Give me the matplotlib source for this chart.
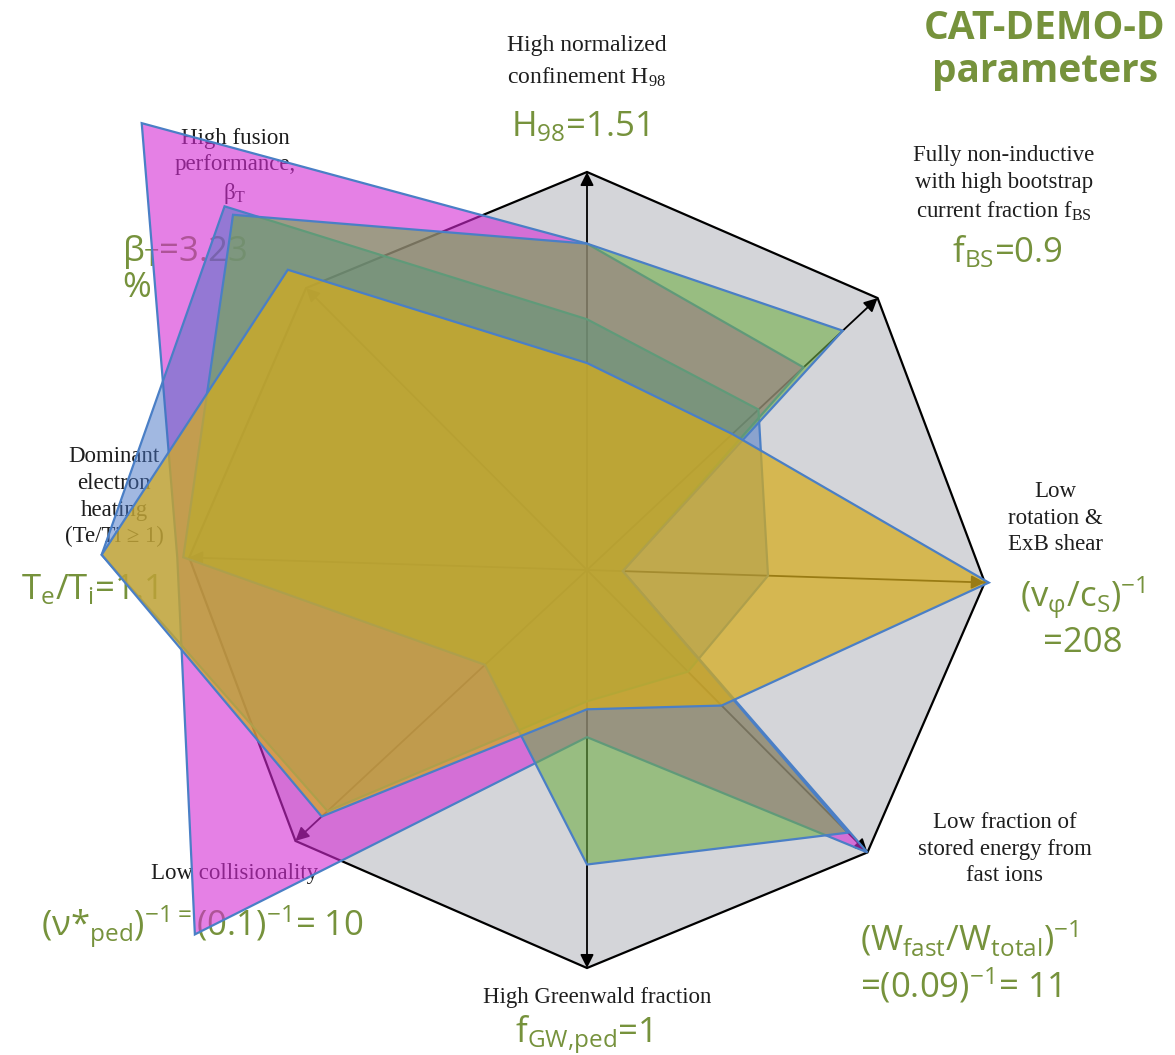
import numpy as np
import matplotlib.pyplot as plt
from matplotlib.colors import to_rgba
plt.switch_backend('Agg')

W_PX, H_PX = 1175, 1055

# axis order: N (H98), NE (fBS), E (rotation), SE (Wfast), S (fGW), SW (nu*), W (Te/Ti), NW (betaT)
axis_angles = [90, 43.1, -1.8, -45.2, -90, -137.1, 178.2, 134.9]
reference = [1, 1, 1, 1, 1, 1, 1, 1]
pink = [0.82, 0.745, 0.09, 1.0, 0.42, 1.345, 1.03, 1.585]
blue = [0.63, 0.59, 0.455, 0.36, 0.33, 0.89, 1.22, 1.29]
green = [0.82, 0.88, 0.09, 0.93, 0.74, 0.35, 1.015, 1.26]
gold = [0.52, 0.50, 1.01, 0.48, 0.35, 0.91, 1.22, 1.065]

series = [(pink, '#d52bd5', 0.6), (blue, '#4472c4', 0.5),
          (green, '#70ad47', 0.6), (gold, '#d6ac1c', 0.72)]

GREEN = '#76923c'
SERIF = 'Liberation Serif'
SANS = 'Open Sans'

fig = plt.figure(figsize=(W_PX / 100, H_PX / 100), dpi=100)
cx, cy, unit, half = 587, 570, 398, 660
ax = fig.add_axes([(cx - half) / W_PX, 1 - (cy + half) / H_PX,
                   2 * half / W_PX, 2 * half / H_PX], projection='polar')
ax.set_ylim(0, half / unit)
ax.set_axis_off()

theta = np.deg2rad(axis_angles)

# reference octagon with arrows
ax.fill(theta, reference, facecolor='#d4d5d9', edgecolor='black', lw=1.6, zorder=1)
for t in theta:
    ax.annotate('', xy=(t, 1), xytext=(t, 0), zorder=2,
                arrowprops=dict(arrowstyle='-|>', color='black', lw=1.3,
                                mutation_scale=20, shrinkA=0, shrinkB=0))

for i, (vals, col, a) in enumerate(series):
    ax.fill(theta, vals, facecolor=to_rgba(col, a), edgecolor='#4a7fc6',
            lw=1.6, zorder=3 + i)


def label(x, y, s, under=False, **kw):
    kw.setdefault('ha', 'center')
    kw.setdefault('va', 'center')
    ax.text(x / W_PX, 1 - y / H_PX, s, transform=fig.transFigure,
            zorder=2.5 if under else 10, **kw)


serif = dict(family=SERIF, fontsize=16.5, color='#1e1e1e', linespacing=1.35)
val = dict(family=SANS, fontsize=25, color=GREEN)

label(1045, 50, 'CAT-DEMO-D\nparameters', family=SANS, fontsize=28,
      fontweight='bold', color=GREEN, linespacing=1.15)

label(587, 62, 'High normalized\nconfinement $\\mathregular{H_{98}}$',
      **{**serif, 'fontsize': 17, 'linespacing': 1.5})
label(580, 127, '$\\mathregular{H_{98}}$=1.51', **val)

label(1004, 184, 'Fully non-inductive\nwith high bootstrap\ncurrent fraction $\\mathregular{f_{BS}}$',
      **serif)
label(1007, 252, '$\\mathregular{f_{BS}}$=0.9', **val)

label(1055, 518, 'Low\nrotation &\nExB shear', **serif)
label(1083, 617, '$\\mathregular{(v_{φ}/c_{S})^{-1}}$\n=208', **val)

label(1005, 849, 'Low fraction of\nstored energy from\nfast ions', **serif)
label(860, 962, '$\\mathregular{(W_{fast}/W_{total})^{-1}}$\n=$\\mathregular{(0.09)^{-1}}$= 11',
      ha='left', **val)

label(597, 997, 'High Greenwald fraction', **serif)
label(583, 1035, '$\\mathregular{f_{GW{,}ped}}$=1', **val)

label(235, 873, 'Low collisionality', under=True, **serif)
label(202, 927, '(ν*$\\mathregular{_{ped}}$)$\\mathregular{^{-1=}}$(0.1)$\\mathregular{^{-1}}$= 10',
      under=True, **val)

label(114, 497, 'Dominant\nelectron\nheating\n(Te/Ti ≥ 1)', under=True, **serif)
label(89, 590, '$\\mathregular{T_{e}/T_{i}}$=1.1', under=True, **val)

label(235, 167, 'High fusion\nperformance,\n$\\mathregular{β_{T}}$', under=True, **serif)
label(122, 269, '$\\mathregular{β_{T}}$=3.23\n%', under=True, ha='left',
      **{**val, 'linespacing': 1.0})

fig.savefig('out.png', dpi=100)
